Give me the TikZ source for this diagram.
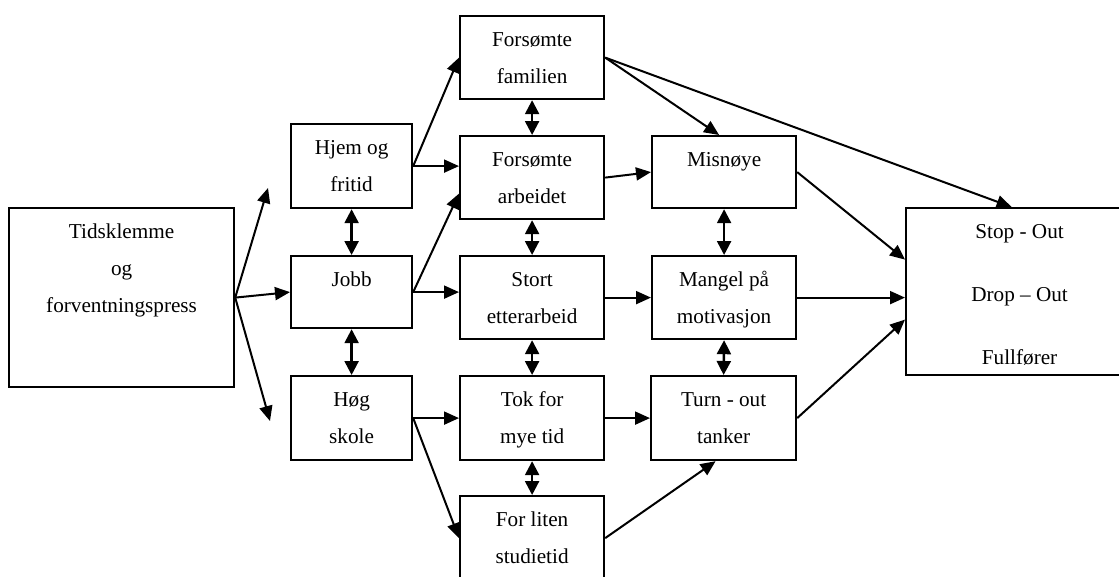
\documentclass[tikz,border=0pt]{standalone}
\usepackage{fontspec}
\setmainfont{Liberation Serif}
\usetikzlibrary{arrows.meta}

\begin{document}
\begin{tikzpicture}[x=1pt, y=-1pt,
  box/.style n args={3}{draw, line width=2.2pt, anchor=north west,
    minimum width=#1, minimum height=#2, inner xsep=2pt, inner ysep=0pt,
    align=center, text height=#3, text depth={#2-#3},
    font=\fontsize{21.2pt}{37pt}\selectfont},
  link/.style={line width=2pt, -{Triangle[length=15pt,width=13pt]}},
  both/.style={line width=2.4pt,
    {Triangle[length=14pt,width=14pt]}-{Triangle[length=14pt,width=14pt]}}]
  \useasboundingbox (0,0) rectangle (1119,576);

  % 1. Define the boxes (top left corner, width, height, text height)
  \node[box={225pt}{179pt}{104.5pt}] (tids) at (8,207) {Tidsklemme\\og\\forventningspress};
  \node[box={121pt}{84pt}{67.5pt}] (hjem) at (290,123) {Hjem og\\fritid};
  \node[box={121pt}{72pt}{30.5pt}] (jobb) at (290,255) {Jobb};
  \node[box={121pt}{84pt}{67.5pt}] (hoeg) at (290,375) {Høg\\skole};
  \node[box={144pt}{83pt}{67.5pt}] (famil) at (459,15) {Forsømte\\familien};
  \node[box={144pt}{83pt}{67.5pt}] (arbeid) at (459,135) {Forsømte\\arbeidet};
  \node[box={144pt}{83pt}{67.5pt}] (stort) at (459,255) {Stort\\etterarbeid};
  \node[box={144pt}{84pt}{67.5pt}] (tok) at (459,375) {Tok for\\mye tid};
  \node[box={144pt}{84pt}{67.5pt}] (liten) at (459,495) {For liten\\studietid};
  \node[box={144pt}{72pt}{30.5pt}] (misn) at (651,135) {Misnøye};
  \node[box={144pt}{83pt}{67.5pt}] (mangel) at (651,255) {Mangel på\\motivasjon};
  \node[box={145pt}{84pt}{67.5pt}] (turn) at (650,375) {Turn - out\\tanker};
  \node[box={227pt}{167pt}{156.5pt}] (utfall) at (905,207) {Stop - Out\\[26pt]Drop – Out\\[26pt]Fullfører};

  % 2. Define the loose ends of the fan
  \coordinate (upEnd) at (268,188);
  \coordinate (downEnd) at (270,421);

  % 3. Draw the arrows
  \draw[link] (tids.east) -- (upEnd);
  \draw[link] (tids.east) -- (jobb.west);
  \draw[link] (tids.east) -- (downEnd);

  \draw[link] (hjem.east) -- (famil.west);
  \draw[link] (hjem.east) -- (hjem.east -| arbeid.west);
  \draw[link] (jobb.east) -- ([yshift=-16pt]arbeid.west);
  \draw[link] (jobb.east) -- (jobb.east -| stort.west);
  \draw[link] (hoeg.east) -- (hoeg.east -| tok.west);
  \draw[link] (hoeg.east) -- (liten.west);

  \draw[link] (famil.east) -- ([xshift=-5pt]misn.north);
  \draw[link] (famil.east) -- ([xshift=-8pt]utfall.north);
  \draw[link] (arbeid.east) -- (misn.west);
  \draw[link] (stort.east) -- (stort.east -| mangel.west);
  \draw[link] (tok.east) -- (tok.east -| turn.west);
  \draw[link] (liten.east) -- ([xshift=-8pt]turn.south);

  \draw[link] (misn.east) -- ([yshift=32pt]utfall.west);
  \draw[link] (mangel.east) -- (mangel.east -| utfall.west);
  \draw[link] (turn.east) -- ([yshift=-28pt]utfall.west);

  % 4. Draw the double arrows
  \draw[both] (hjem.south) -- (jobb.north);
  \draw[both] (jobb.south) -- (hoeg.north);
  \draw[both] (famil.south) -- (arbeid.north);
  \draw[both] (arbeid.south) -- (stort.north);
  \draw[both] (stort.south) -- (tok.north);
  \draw[both] (tok.south) -- (liten.north);
  \draw[both] (misn.south) -- (mangel.north);
  \draw[both] (mangel.south) -- (turn.north);
\end{tikzpicture}
\end{document}
